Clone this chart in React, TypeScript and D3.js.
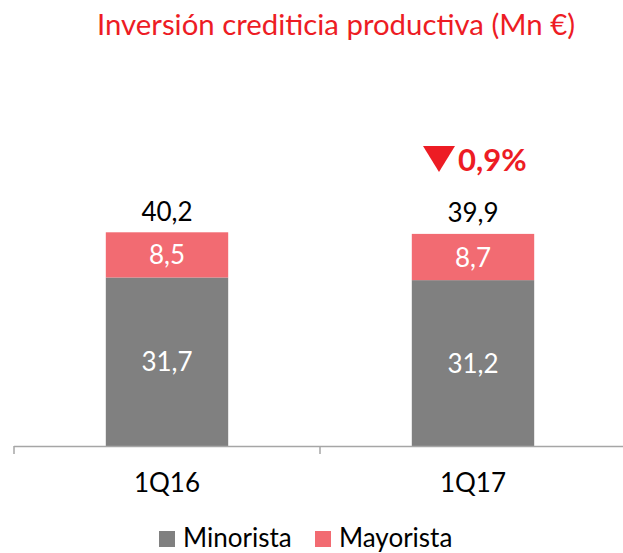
import React from "react";
import * as d3 from "d3";

const categories = ["1Q16", "1Q17"];
const minorista = [31.7, 31.2];
const mayorista = [8.5, 8.7];
const totals = [40.2, 39.9];
const seriesNames = ["Minorista", "Mayorista"];
const changeLabel = "0,9%";
const title = "Inversión crediticia productiva (Mn €)";

const W = 623;
const H = 553;
const GRAY = "#808080";
const PINK = "#F26B72";
const RED = "#ED1C24";
const FONT = "Lato, 'Open Sans', sans-serif";

const fmt = (v: number) => v.toFixed(1).replace(".", ",");

export default function App() {
  const x = d3.scaleBand<string>().domain(categories).range([14, 626]).paddingInner(0).paddingOuter(0);
  const barW = x.bandwidth() * 0.4;
  const y = d3.scaleLinear().domain([0, 45]).range([446, 446 - 5.316 * 45]);

  const rows = categories.map((c, i) => ({ cat: c, minorista: minorista[i], mayorista: mayorista[i] }));
  const stack = d3.stack<any>().keys(["minorista", "mayorista"]);
  const layers = stack(rows);
  const colors = [GRAY, PINK];

  const cx = (c: string) => (x(c) as number) + x.bandwidth() / 2;
  const c2 = cx(categories[1]);

  return (
    <svg width={W} height={H} style={{ position: "absolute", left: 0, top: 0, background: "#fff" }} fontFamily={FONT}>
      <text x={336} y={35} textAnchor="middle" fontSize={28.5} fill={RED} textLength={478} lengthAdjust="spacingAndGlyphs">
        {title}
      </text>

      {layers.map((layer, li) =>
        layer.map((d, i) => {
          const left = cx(categories[i]) - barW / 2;
          const top = y(d[1]);
          const bottom = y(d[0]);
          return (
            <g key={`${li}-${i}`}>
              <rect x={left} y={top} width={barW} height={bottom - top} fill={colors[li]} />
              <text
                x={cx(categories[i])}
                y={(top + bottom) / 2 + 9.5}
                textAnchor="middle"
                fontSize={26}
                fill="#fff"
              >
                {fmt(d[1] - d[0])}
              </text>
            </g>
          );
        })
      )}

      {totals.map((t, i) => (
        <text key={i} x={cx(categories[i])} y={y(t) - 11.5} textAnchor="middle" fontSize={26} fill="#000">
          {fmt(t)}
        </text>
      ))}

      {/* change annotation */}
      <path d={`M${c2 - 50},146 L${c2 - 18},146 L${c2 - 34},172 Z`} fill={RED} />
      <text x={c2 - 15} y={171} fontSize={31} fontWeight="bold" fill={RED}>
        {changeLabel}
      </text>

      {/* axis */}
      <line x1={14} x2={W} y1={446.5} y2={446.5} stroke="#A6A6A6" strokeWidth={1.5} />
      {[...categories.map((c) => x(c) as number), 626].map((tx, i) => (
        <line key={i} x1={tx} x2={tx} y1={446} y2={454} stroke="#A6A6A6" strokeWidth={1.5} />
      ))}
      {categories.map((c) => (
        <text key={c} x={cx(c)} y={492} textAnchor="middle" fontSize={26} fill="#000">
          {c}
        </text>
      ))}

      {/* legend */}
      {seriesNames.map((n, i) => {
        const lx = i === 0 ? 159 : 315;
        return (
          <g key={n}>
            <rect x={lx} y={531} width={16} height={16} fill={colors[i]} />
            <text x={lx + 24} y={547} fontSize={26} fill="#000">
              {n}
            </text>
          </g>
        );
      })}
    </svg>
  );
}
